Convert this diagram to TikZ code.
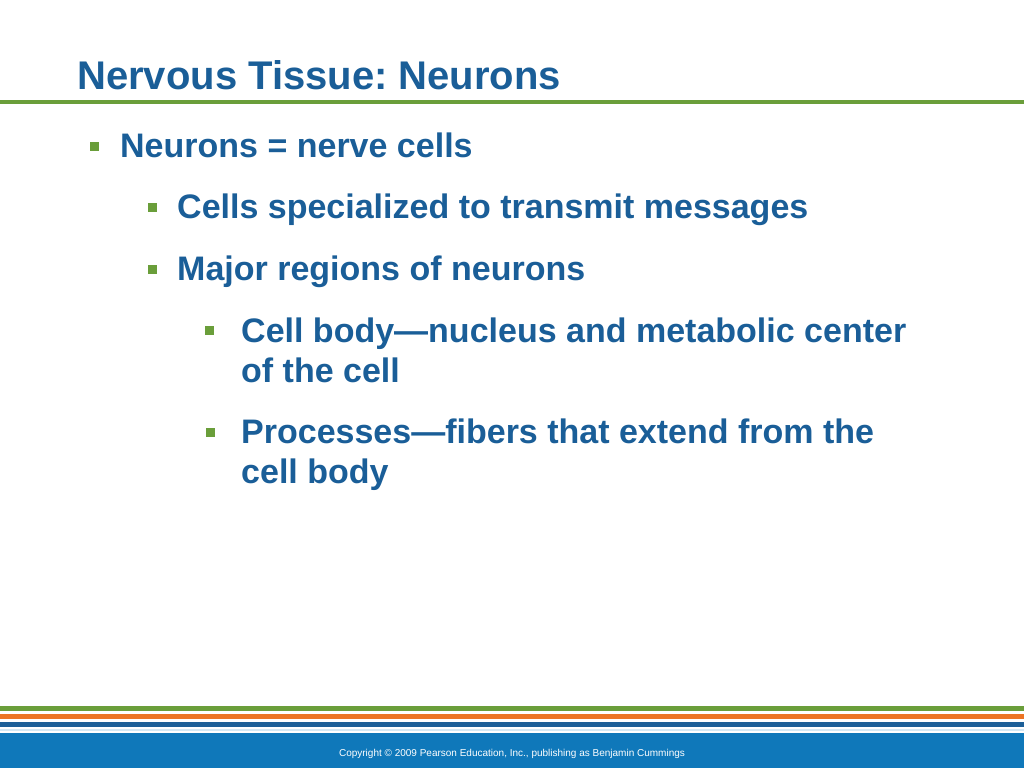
\documentclass[tikz,border=0pt]{standalone}
\usepackage{fontspec}
\setmainfont{Liberation Sans}
\frenchspacing
\definecolor{txtblue}{HTML}{1A5E98}
\definecolor{bgreen}{HTML}{6A9E3A}
\definecolor{borange}{HTML}{EC7424}
\definecolor{sblue}{HTML}{1C5F98}
\definecolor{paleblue}{HTML}{D4E8F4}
\definecolor{footblue}{HTML}{0F78BA}
\tikzset{
  bul/.style={fill=bgreen, draw=none, minimum width=9pt, minimum height=9pt, inner sep=0pt},
  body/.style={anchor=base west, inner sep=0pt, text=txtblue, font=\fontsize{34}{40}\selectfont\bfseries},
  ttl/.style={anchor=base west, inner sep=0pt, text=txtblue, font=\fontsize{40}{46}\selectfont\bfseries},
}
\begin{document}
\begin{tikzpicture}[x=1pt,y=-1pt]
\useasboundingbox (0,0) rectangle (1024,768);
\fill[white] (0,0) rectangle (1024,768);
% title
\node[ttl] (title) at (77,89) {Nervous Tissue: Neurons};
\fill[bgreen] (0,100) rectangle (1024,104);
% bullets
\node[bul] (b1) at (94.5,146) {};
\node[body] (t1) at (120,157) {Neurons = nerve cells};
\node[bul] (b2) at (152,207.5) {};
\node[body] (t2) at (177,218) {Cells specialized to transmit messages};
\node[bul] (b3) at (152,269) {};
\node[body] (t3) at (177,280) {Major regions of neurons};
\node[bul] (b4) at (209,330) {};
\node[body] (t4) at (241,342) {Cell body---nucleus and metabolic center};
\node[body] (t4b) at (241,382) {of the cell};
\node[bul] (b5) at (210,432) {};
\node[body] (t5) at (241,443) {Processes---fibers that extend from the};
\node[body] (t5b) at (241,483) {cell body};
% footer stripes
\fill[bgreen] (0,706) rectangle (1024,710.5);
\fill[borange] (0,714) rectangle (1024,719);
\fill[sblue] (0,722) rectangle (1024,727);
\fill[paleblue] (0,729) rectangle (1024,731);
\fill[footblue] (0,733) rectangle (1024,768);
\node[text=white, inner sep=0pt, font=\fontsize{10}{12}\selectfont] (copy) at (512,754) {Copyright © 2009 Pearson Education, Inc., publishing as Benjamin Cummings};
\end{tikzpicture}
\end{document}
